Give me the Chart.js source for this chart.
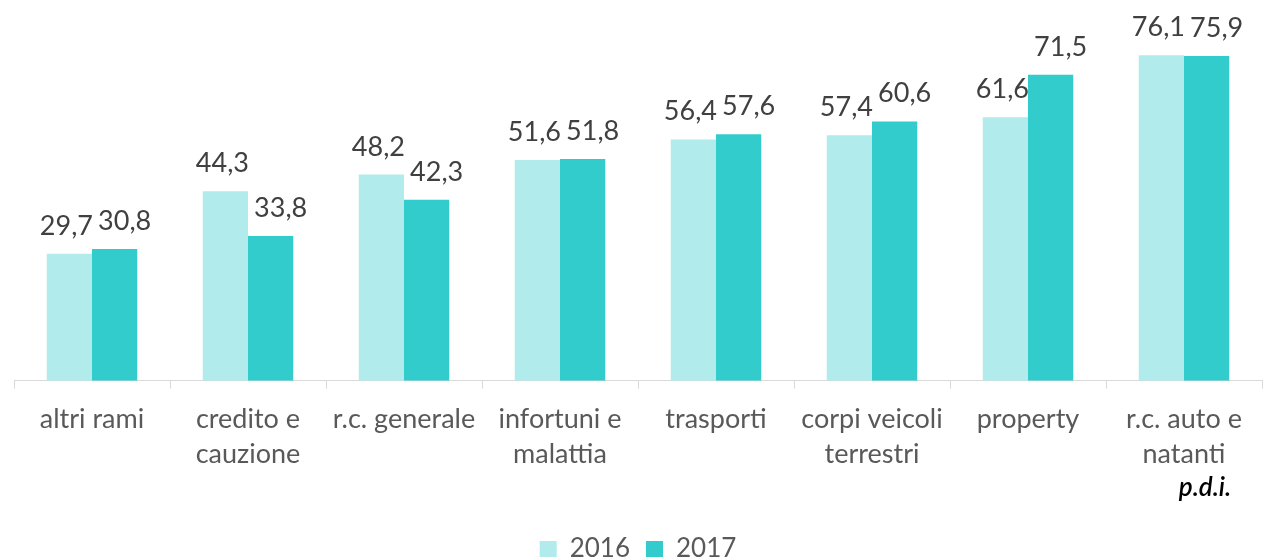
<!DOCTYPE html>
<html>
<head>
<meta charset="utf-8">
<script src="https://cdn.jsdelivr.net/npm/chart.js@4/dist/chart.umd.min.js"></script>
<style>
  html, body { margin: 0; padding: 0; background: #fff; }
  #wrap { width: 1265px; height: 559px; }
</style>
</head>
<body>
<div id="wrap"><canvas id="chart"></canvas></div>
<script>
const categories = [
  ['altri rami'],
  ['credito e', 'cauzione'],
  ['r.c. generale'],
  ['infortuni e', 'malattia'],
  ['trasporti'],
  ['corpi veicoli', 'terrestri'],
  ['property'],
  ['r.c. auto e', 'natanti', '']
];
const values2016 = [29.7, 44.3, 48.2, 51.6, 56.4, 57.4, 61.6, 76.1];
const values2017 = [30.8, 33.8, 42.3, 51.8, 57.6, 60.6, 71.5, 75.9];
const seriesNames = ['2016', '2017'];
const footnote = 'p.d.i.';

const FONT = 'Lato, "Open Sans", sans-serif';

// labels are nudged apart a bit, like in the original
const labelShift = [-3, 10];

const valueLabels = {
  id: 'valueLabels',
  afterDatasetsDraw(chart) {
    const ctx = chart.ctx;
    ctx.save();
    ctx.font = '27px ' + FONT;
    ctx.fillStyle = '#404040';
    ctx.textAlign = 'center';
    ctx.textBaseline = 'alphabetic';
    chart.data.datasets.forEach((ds, i) => {
      chart.getDatasetMeta(i).data.forEach((bar, j) => {
        ctx.fillText(ds.data[j].toFixed(1).replace('.', ','), bar.x + labelShift[i], bar.y - 19);
      });
    });
    // footnote under the last category
    const xs = chart.scales.x;
    ctx.font = 'italic 600 26px ' + FONT;
    ctx.fillStyle = '#000';
    ctx.fillText(footnote, xs.getPixelForValue(categories.length - 1) + 21, xs.top + 115);
    ctx.restore();
  }
};

new Chart(document.getElementById('chart'), {
  type: 'bar',
  data: {
    labels: categories,
    datasets: [{
      label: seriesNames[0],
      data: values2016,
      backgroundColor: '#B2EBEB'
    }, {
      label: seriesNames[1],
      data: values2017,
      backgroundColor: '#33CCCC'
    }]
  },
  options: {
    responsive: true,
    maintainAspectRatio: false,
    animation: false,
    layout: { padding: { left: 14, right: 3, top: 0, bottom: -13 } },
    datasets: {
      bar: { barPercentage: 1, categoryPercentage: 0.58 }
    },
    scales: {
      x: {
        grid: {
          drawOnChartArea: false,
          drawTicks: true,
          tickLength: 8,
          color: '#D9D9D9',
          offset: true
        },
        border: { color: '#D9D9D9', width: 1 },
        ticks: {
          color: '#595959',
          font: { family: FONT, size: 27, lineHeight: 1.3 },
          padding: 13,
          maxRotation: 0,
          autoSkip: false
        }
      },
      y: {
        display: false,
        min: 0,
        max: 89
      }
    },
    plugins: {
      legend: {
        position: 'bottom',
        labels: {
          boxWidth: 17,
          boxHeight: 16,
          color: '#595959',
          font: { family: FONT, size: 26 },
          padding: 16
        }
      },
      tooltip: { enabled: false }
    }
  },
  plugins: [valueLabels]
});
</script>
</body>
</html>
